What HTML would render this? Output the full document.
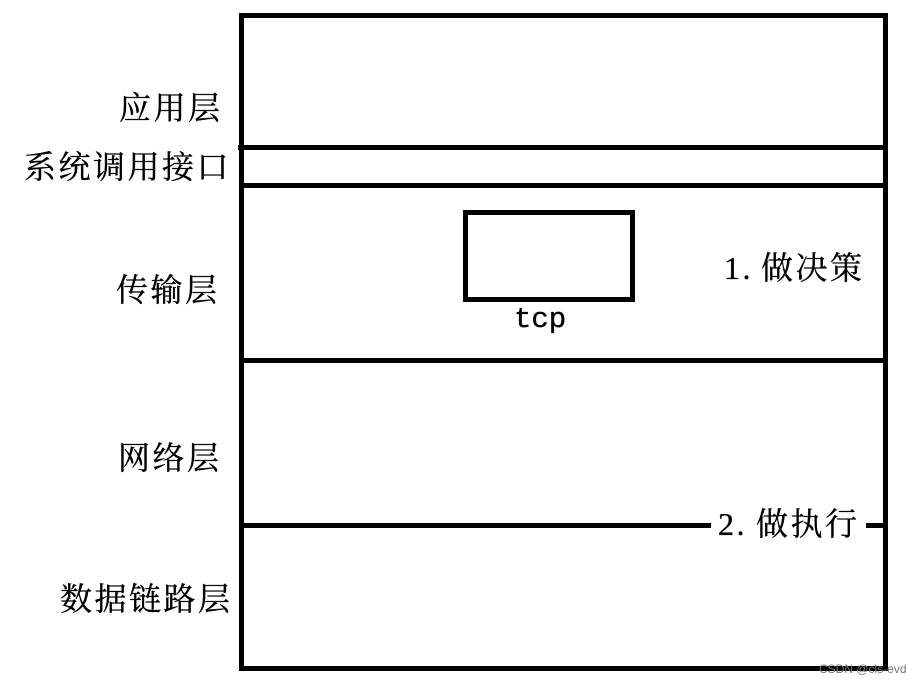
<!DOCTYPE html>
<html><head><meta charset="utf-8">
<style>
html,body{margin:0;padding:0;background:#fff;width:922px;height:684px;overflow:hidden}
.l{position:absolute;background:#000}
.t{position:absolute;white-space:nowrap;font-family:"Liberation Serif","Noto Serif CJK SC",serif;font-size:32px;line-height:40px;letter-spacing:2.5px;color:#000;-webkit-text-stroke:0.35px #000}
</style></head><body>
<div class="l" style="left:239px;top:13px;width:5px;height:658px"></div>
<div class="l" style="left:883px;top:13px;width:5px;height:658px"></div>
<div class="l" style="left:239px;top:13px;width:649px;height:5px"></div>
<div class="l" style="left:239px;top:666px;width:649px;height:5px"></div>
<div class="l" style="left:238px;top:145px;width:648px;height:5px"></div>
<div class="l" style="left:241px;top:183px;width:645px;height:5px"></div>
<div class="l" style="left:241px;top:358px;width:645px;height:5px"></div>
<div class="l" style="left:241px;top:523px;width:470px;height:5px"></div>
<div class="l" style="left:866px;top:523px;width:20px;height:5px"></div>
<div style="position:absolute;left:463px;top:210px;width:162px;height:82px;border:5px solid #000"></div>
<div class="t" style="left:119px;top:88px">应用层</div>
<div class="t" style="left:24px;top:147px">系统调用接口</div>
<div class="t" style="left:116px;top:270px">传输层</div>
<div class="t" style="left:118px;top:438px">网络层</div>
<div class="t" style="left:60px;top:579px">数据链路层</div>
<div class="t" style="left:724px;top:248px">1.</div>
<div class="t" style="left:761px;top:248px">做决策</div>
<div class="t" style="left:718px;top:504px">2.</div>
<div class="t" style="left:756px;top:504px">做执行</div>
<div class="t" style="left:514px;top:300px;font-family:'Liberation Mono',monospace;font-size:29px;letter-spacing:0">tcp</div>
<div style="position:absolute;left:819px;top:662px;font:12px/15px 'Liberation Sans',sans-serif;color:#777;white-space:nowrap">CSDN @cls-evd</div>
</body></html>
